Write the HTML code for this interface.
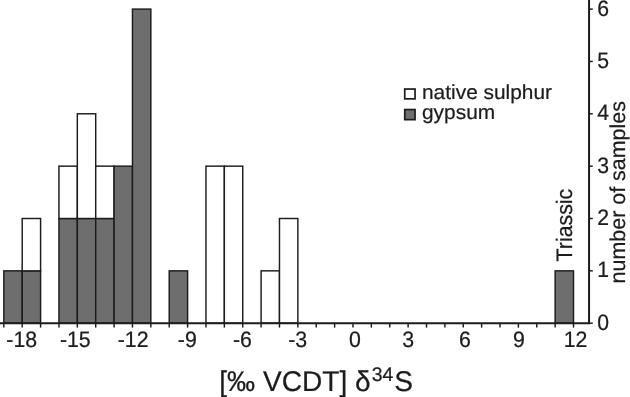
<!DOCTYPE html>
<html><head><meta charset="utf-8"><title>histogram</title>
<style>html,body{margin:0;padding:0;background:#fff}svg{display:block}text{text-rendering:geometricPrecision;stroke:#1c1c1c;stroke-width:0.22px;font-family:"Liberation Sans",sans-serif;fill:#1c1c1c}</style></head><body>
<svg width="630" height="397" viewBox="0 0 630 397">
<rect width="630" height="397" fill="#fff"/>
<g>
<rect x="3.82" y="270.85" width="18.38" height="52.35" fill="#6e6e6e" stroke="#1c1c1c" stroke-width="1.45"/>
<rect x="22.20" y="270.85" width="18.38" height="52.35" fill="#6e6e6e" stroke="#1c1c1c" stroke-width="1.45"/>
<rect x="22.20" y="218.50" width="18.38" height="52.35" fill="#fff" stroke="#1c1c1c" stroke-width="1.45"/>
<rect x="58.95" y="218.50" width="18.38" height="104.70" fill="#6e6e6e" stroke="#1c1c1c" stroke-width="1.45"/>
<rect x="58.95" y="166.15" width="18.38" height="52.35" fill="#fff" stroke="#1c1c1c" stroke-width="1.45"/>
<rect x="77.33" y="218.50" width="18.38" height="104.70" fill="#6e6e6e" stroke="#1c1c1c" stroke-width="1.45"/>
<rect x="77.33" y="113.80" width="18.38" height="104.70" fill="#fff" stroke="#1c1c1c" stroke-width="1.45"/>
<rect x="95.71" y="218.50" width="18.38" height="104.70" fill="#6e6e6e" stroke="#1c1c1c" stroke-width="1.45"/>
<rect x="95.71" y="166.15" width="18.38" height="52.35" fill="#fff" stroke="#1c1c1c" stroke-width="1.45"/>
<rect x="114.08" y="166.15" width="18.38" height="157.05" fill="#6e6e6e" stroke="#1c1c1c" stroke-width="1.45"/>
<rect x="132.46" y="9.10" width="18.38" height="314.10" fill="#6e6e6e" stroke="#1c1c1c" stroke-width="1.45"/>
<rect x="169.22" y="270.85" width="18.38" height="52.35" fill="#6e6e6e" stroke="#1c1c1c" stroke-width="1.45"/>
<rect x="205.97" y="166.15" width="18.38" height="157.05" fill="#fff" stroke="#1c1c1c" stroke-width="1.45"/>
<rect x="224.35" y="166.15" width="18.38" height="157.05" fill="#fff" stroke="#1c1c1c" stroke-width="1.45"/>
<rect x="261.10" y="270.85" width="18.38" height="52.35" fill="#fff" stroke="#1c1c1c" stroke-width="1.45"/>
<rect x="279.48" y="218.50" width="18.38" height="104.70" fill="#fff" stroke="#1c1c1c" stroke-width="1.45"/>
<rect x="555.13" y="270.85" width="18.38" height="52.35" fill="#6e6e6e" stroke="#1c1c1c" stroke-width="1.45"/>
<line x1="0" y1="323.20" x2="589.95" y2="323.20" stroke="#1c1c1c" stroke-width="2.1"/>
<line x1="589.05" y1="0" x2="589.05" y2="324.10" stroke="#1c1c1c" stroke-width="2.0"/>
<line x1="3.82" y1="323.20" x2="3.82" y2="327.6" stroke="#1c1c1c" stroke-width="1.45"/>
<line x1="22.20" y1="323.20" x2="22.20" y2="327.6" stroke="#1c1c1c" stroke-width="1.45"/>
<line x1="40.58" y1="323.20" x2="40.58" y2="327.6" stroke="#1c1c1c" stroke-width="1.45"/>
<line x1="58.95" y1="323.20" x2="58.95" y2="327.6" stroke="#1c1c1c" stroke-width="1.45"/>
<line x1="77.33" y1="323.20" x2="77.33" y2="327.6" stroke="#1c1c1c" stroke-width="1.45"/>
<line x1="95.71" y1="323.20" x2="95.71" y2="327.6" stroke="#1c1c1c" stroke-width="1.45"/>
<line x1="114.08" y1="323.20" x2="114.08" y2="327.6" stroke="#1c1c1c" stroke-width="1.45"/>
<line x1="132.46" y1="323.20" x2="132.46" y2="327.6" stroke="#1c1c1c" stroke-width="1.45"/>
<line x1="150.84" y1="323.20" x2="150.84" y2="327.6" stroke="#1c1c1c" stroke-width="1.45"/>
<line x1="169.22" y1="323.20" x2="169.22" y2="327.6" stroke="#1c1c1c" stroke-width="1.45"/>
<line x1="187.59" y1="323.20" x2="187.59" y2="327.6" stroke="#1c1c1c" stroke-width="1.45"/>
<line x1="205.97" y1="323.20" x2="205.97" y2="327.6" stroke="#1c1c1c" stroke-width="1.45"/>
<line x1="224.35" y1="323.20" x2="224.35" y2="327.6" stroke="#1c1c1c" stroke-width="1.45"/>
<line x1="242.72" y1="323.20" x2="242.72" y2="327.6" stroke="#1c1c1c" stroke-width="1.45"/>
<line x1="261.10" y1="323.20" x2="261.10" y2="327.6" stroke="#1c1c1c" stroke-width="1.45"/>
<line x1="279.48" y1="323.20" x2="279.48" y2="327.6" stroke="#1c1c1c" stroke-width="1.45"/>
<line x1="297.85" y1="323.20" x2="297.85" y2="327.6" stroke="#1c1c1c" stroke-width="1.45"/>
<line x1="316.23" y1="323.20" x2="316.23" y2="327.6" stroke="#1c1c1c" stroke-width="1.45"/>
<line x1="334.61" y1="323.20" x2="334.61" y2="327.6" stroke="#1c1c1c" stroke-width="1.45"/>
<line x1="352.99" y1="323.20" x2="352.99" y2="327.6" stroke="#1c1c1c" stroke-width="1.45"/>
<line x1="371.36" y1="323.20" x2="371.36" y2="327.6" stroke="#1c1c1c" stroke-width="1.45"/>
<line x1="389.74" y1="323.20" x2="389.74" y2="327.6" stroke="#1c1c1c" stroke-width="1.45"/>
<line x1="408.12" y1="323.20" x2="408.12" y2="327.6" stroke="#1c1c1c" stroke-width="1.45"/>
<line x1="426.49" y1="323.20" x2="426.49" y2="327.6" stroke="#1c1c1c" stroke-width="1.45"/>
<line x1="444.87" y1="323.20" x2="444.87" y2="327.6" stroke="#1c1c1c" stroke-width="1.45"/>
<line x1="463.25" y1="323.20" x2="463.25" y2="327.6" stroke="#1c1c1c" stroke-width="1.45"/>
<line x1="481.62" y1="323.20" x2="481.62" y2="327.6" stroke="#1c1c1c" stroke-width="1.45"/>
<line x1="500.00" y1="323.20" x2="500.00" y2="327.6" stroke="#1c1c1c" stroke-width="1.45"/>
<line x1="518.38" y1="323.20" x2="518.38" y2="327.6" stroke="#1c1c1c" stroke-width="1.45"/>
<line x1="536.76" y1="323.20" x2="536.76" y2="327.6" stroke="#1c1c1c" stroke-width="1.45"/>
<line x1="555.13" y1="323.20" x2="555.13" y2="327.6" stroke="#1c1c1c" stroke-width="1.45"/>
<line x1="573.51" y1="323.20" x2="573.51" y2="327.6" stroke="#1c1c1c" stroke-width="1.45"/>
<line x1="589.05" y1="323.20" x2="592.8" y2="323.20" stroke="#1c1c1c" stroke-width="1.45"/>
<line x1="589.05" y1="270.85" x2="592.8" y2="270.85" stroke="#1c1c1c" stroke-width="1.45"/>
<line x1="589.05" y1="218.50" x2="592.8" y2="218.50" stroke="#1c1c1c" stroke-width="1.45"/>
<line x1="589.05" y1="166.15" x2="592.8" y2="166.15" stroke="#1c1c1c" stroke-width="1.45"/>
<line x1="589.05" y1="113.80" x2="592.8" y2="113.80" stroke="#1c1c1c" stroke-width="1.45"/>
<line x1="589.05" y1="61.45" x2="592.8" y2="61.45" stroke="#1c1c1c" stroke-width="1.45"/>
<line x1="589.05" y1="9.10" x2="592.8" y2="9.10" stroke="#1c1c1c" stroke-width="1.45"/>
<text transform="translate(21.70,346.80) scale(1,1.048)" font-size="21.3" text-anchor="middle">-18</text>
<text transform="translate(75.30,346.80) scale(1,1.048)" font-size="21.3" text-anchor="middle">-15</text>
<text transform="translate(133.10,346.80) scale(1,1.048)" font-size="21.3" text-anchor="middle">-12</text>
<text transform="translate(187.30,346.80) scale(1,1.048)" font-size="21.3" text-anchor="middle">-9</text>
<text transform="translate(242.50,346.80) scale(1,1.048)" font-size="21.3" text-anchor="middle">-6</text>
<text transform="translate(297.70,346.80) scale(1,1.048)" font-size="21.3" text-anchor="middle">-3</text>
<text transform="translate(354.80,346.80) scale(1,1.048)" font-size="21.3" text-anchor="middle">0</text>
<text transform="translate(408.10,346.80) scale(1,1.048)" font-size="21.3" text-anchor="middle">3</text>
<text transform="translate(464.80,346.80) scale(1,1.048)" font-size="21.3" text-anchor="middle">6</text>
<text transform="translate(519.00,346.80) scale(1,1.048)" font-size="21.3" text-anchor="middle">9</text>
<text transform="translate(575.60,346.80) scale(1,1.048)" font-size="21.3" text-anchor="middle">12</text>
<text transform="translate(603.20,329.70) scale(1,1.050)" font-size="21.2" text-anchor="middle">0</text>
<text transform="translate(603.20,277.35) scale(1,1.050)" font-size="21.2" text-anchor="middle">1</text>
<text transform="translate(603.20,225.00) scale(1,1.050)" font-size="21.2" text-anchor="middle">2</text>
<text transform="translate(603.20,172.65) scale(1,1.050)" font-size="21.2" text-anchor="middle">3</text>
<text transform="translate(603.20,120.30) scale(1,1.050)" font-size="21.2" text-anchor="middle">4</text>
<text transform="translate(603.20,67.95) scale(1,1.050)" font-size="21.2" text-anchor="middle">5</text>
<text transform="translate(603.20,15.60) scale(1,1.050)" font-size="21.2" text-anchor="middle">6</text>
<text transform="translate(625.10,283.40) rotate(-90) scale(1,1.000)" font-size="21.45">number of samples</text>
<text transform="translate(571.80,261.40) rotate(-90) scale(1,1.050)" font-size="21.3">Triassic</text>
<rect x="404.75" y="89.05" width="10.3" height="9.8" fill="#fff" stroke="#1c1c1c" stroke-width="1.7"/>
<rect x="404.75" y="109.55" width="10.3" height="10.1" fill="#6e6e6e" stroke="#1c1c1c" stroke-width="1.7"/>
<text transform="translate(422.00,98.80) scale(1,0.970)" font-size="20.9">native sulphur</text>
<text transform="translate(422.00,118.90) scale(1,0.970)" font-size="20.9">gypsum</text>
<text transform="translate(219.20,391.20) scale(1,1.015)" font-size="28.1">[‰ VCDT] δ<tspan font-size="19.4" dy="-10.2" dx="1.0">34</tspan><tspan dy="10.2" dx="1.0">S</tspan></text>
</g></svg></body></html>
